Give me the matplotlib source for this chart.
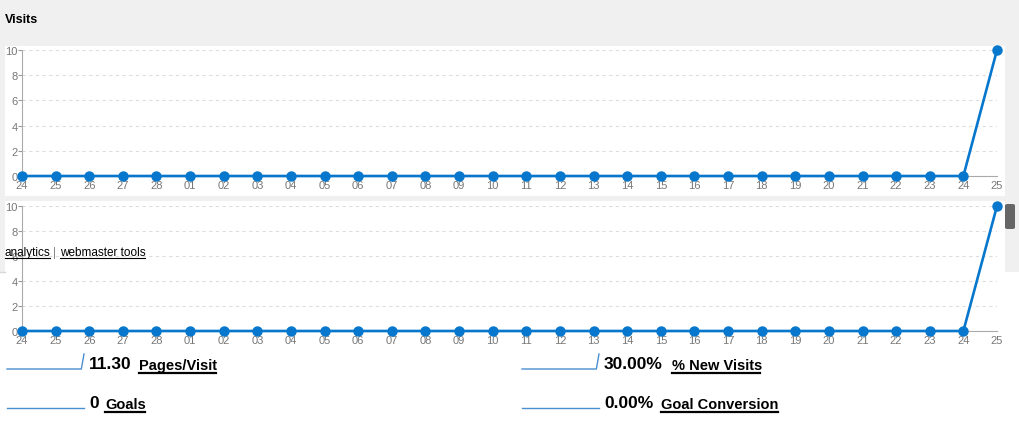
import matplotlib.pyplot as plt
from matplotlib.patches import Rectangle, FancyBboxPatch
from matplotlib.lines import Line2D

plt.rcParams['font.family'] = ['Liberation Sans', 'DejaVu Sans']

W, H = 1020, 427

# daily labels (Feb 24 .. Mar 25)
days = ['24', '25', '26', '27', '28', '01', '02', '03', '04', '05', '06', '07',
        '08', '09', '10', '11', '12', '13', '14', '15', '16', '17', '18', '19',
        '20', '21', '22', '23', '24', '25']
visits = [0, 0, 0, 0, 0, 0, 0, 0, 0, 0, 0, 0, 0, 0, 0, 0, 0, 0, 0, 0,
          0, 0, 0, 0, 0, 0, 0, 0, 0, 10]
yticks = [0, 2, 4, 6, 8, 10]

pages_per_visit = [0, 0, 0, 0, 0, 0, 0, 0, 0, 0, 0, 0, 0, 0, 0, 0, 0, 0, 0, 0,
                   0, 0, 0, 0, 0, 0, 0, 0, 0, 11.3]
goals = [0, 0, 0, 0, 0, 0, 0, 0, 0, 0, 0, 0, 0, 0, 0, 0, 0, 0, 0, 0,
         0, 0, 0, 0, 0, 0, 0, 0, 0, 0]
new_visits = [0, 0, 0, 0, 0, 0, 0, 0, 0, 0, 0, 0, 0, 0, 0, 0, 0, 0, 0, 0,
              0, 0, 0, 0, 0, 0, 0, 0, 0, 30.0]
goal_conv = [0, 0, 0, 0, 0, 0, 0, 0, 0, 0, 0, 0, 0, 0, 0, 0, 0, 0, 0, 0,
             0, 0, 0, 0, 0, 0, 0, 0, 0, 0]

BLUE = '#0677cc'


def box(x, y, w, h):
    # pixel box (top-left origin) -> figure fraction rect
    return [x / W, 1 - (y + h) / H, w / W, h / H]


def rect(fig, x, y, w, h, color):
    l, b, ww, hh = box(x, y, w, h)
    fig.patches.append(Rectangle((l, b), ww, hh, transform=fig.transFigure,
                                 facecolor=color, edgecolor='none', zorder=-10))


def ftext(fig, x, y, s, **kw):
    return fig.text(x / W, 1 - y / H, s, va='center', ha='left', **kw)


def hline(fig, x0, x1, y, color='black', lw=1.0):
    fig.lines.append(Line2D([x0 / W, x1 / W], [1 - y / H, 1 - y / H],
                            transform=fig.transFigure, color=color, lw=lw))


def visits_chart(fig, top, bottom):
    ax = fig.add_axes(box(22, top, 975, bottom - top))
    ax.set_facecolor('none')
    x = list(range(len(days)))
    ax.plot(x, visits, color=BLUE, lw=1.9, marker='o', ms=6.5,
            clip_on=False, zorder=5)
    ax.set_xlim(0, len(days) - 1)
    ax.set_ylim(0, 10)
    ax.set_xticks(x)
    ax.set_xticklabels(days)
    ax.set_yticks(yticks)
    ax.yaxis.grid(True, ls=(0, (3, 3)), color='#dddddd', lw=0.8)
    ax.set_axisbelow(True)
    for s in ['top', 'right']:
        ax.spines[s].set_visible(False)
    ax.spines['left'].set_color('#aaaaaa')
    ax.spines['bottom'].set_color('#aaaaaa')
    ax.tick_params(axis='y', length=3, width=0.8, color='#999999',
                   labelcolor='#777777', labelsize=8, pad=0)
    ax.tick_params(axis='x', length=0, labelcolor='#777777', labelsize=8, pad=3)
    return ax


def spark(fig, x, y, vals):
    ax = fig.add_axes(box(x, y - 15, 77, 15))
    ax.plot(range(len(vals)), vals, color='#4a8fd0', lw=1.0, clip_on=False)
    ax.set_xlim(0, len(vals) - 1)
    top = max(vals) if max(vals) > 0 else 1
    ax.set_ylim(0, top)
    ax.axis('off')


fig = plt.figure(figsize=(W / 100, H / 100), dpi=100)
fig.patch.set_facecolor('white')

# panel backgrounds
rect(fig, 0, 0, W, 202, '#f0f0f0')
rect(fig, 5, 47, 1000, 150, 'white')
rect(fig, 0, 202, 5, 71, '#f0f0f0')
rect(fig, 1005, 202, 15, 71, '#f0f0f0')
l, b, ww, hh = box(1005, 205, 10, 25)
fig.patches.append(FancyBboxPatch((l, b), ww, hh, boxstyle='round,pad=0,rounding_size=0.003',
                                  transform=fig.transFigure, facecolor='#666666',
                                  edgecolor='none', zorder=-5))
hline(fig, 0, 5, 273, color='#d8d8d8', lw=1)

ftext(fig, 5, 20, 'Visits', fontsize=9, fontweight='bold', color='black')

visits_chart(fig, 51, 177)
visits_chart(fig, 207, 332)

# overlay links
ftext(fig, 5, 253, 'analytics', fontsize=8.5, color='black', zorder=10)
ftext(fig, 53, 253, '|', fontsize=8.5, color='#888888', zorder=10)
ftext(fig, 60, 253, 'webmaster tools', fontsize=8.5, color='black', zorder=10)
hline(fig, 5, 50, 259, lw=0.8)
hline(fig, 60, 145, 259, lw=0.8)

# summary sparklines
spark(fig, 7, 370, pages_per_visit)
spark(fig, 7, 409, goals)
spark(fig, 522, 370, new_visits)
spark(fig, 522, 409, goal_conv)

ftext(fig, 89, 365, '%.2f' % 11.30, fontsize=12.5, fontweight='bold')
ftext(fig, 139, 366, 'Pages/Visit', fontsize=10.5, fontweight='bold')
hline(fig, 139, 216, 374, lw=1.6)

ftext(fig, 89, 404, '0', fontsize=12.5, fontweight='bold')
ftext(fig, 105, 405, 'Goals', fontsize=10.5, fontweight='bold')
hline(fig, 105, 145, 413, lw=1.6)

ftext(fig, 604, 365, '30.00%', fontsize=12.5, fontweight='bold')
ftext(fig, 672, 366, '% New Visits', fontsize=10.5, fontweight='bold')
hline(fig, 672, 760, 374, lw=1.6)

ftext(fig, 604, 404, '0.00%', fontsize=12.5, fontweight='bold')
ftext(fig, 661, 405, 'Goal Conversion', fontsize=10.5, fontweight='bold')
hline(fig, 661, 778, 413, lw=1.6)

fig.savefig('out.png', dpi=100)
